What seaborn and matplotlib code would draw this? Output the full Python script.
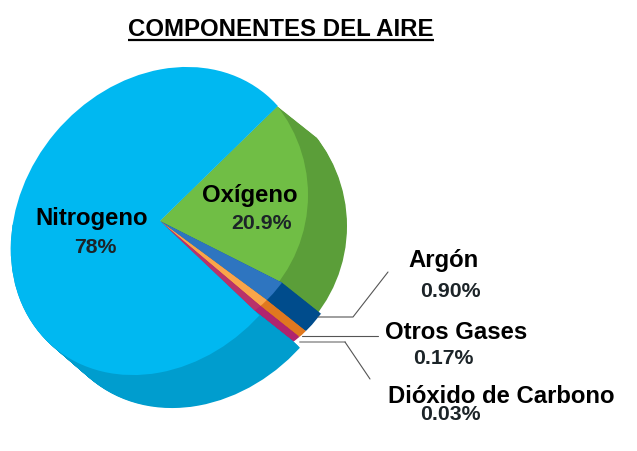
import numpy as np
import seaborn as sns
import matplotlib.pyplot as plt
from matplotlib.patches import Circle, Ellipse
from matplotlib.transforms import Affine2D

# nombres y porcentajes tal como salen rotulados
nombres = ["Oxígeno", "Argón", "Otros Gases", "Dióxido de Carbono", "Nitrogeno"]
porcentajes = ["20.9%", "0.90%", "0.17%", "0.03%", "78%"]

# el dibujo exagera las rebanadas chicas, asi que van los grados
grados_cara = [71.1, 9.7, 3.7, 3.3, 272.2]
# el lado solo se ve al frente: el nitrogeno se parte en frente y fondo
grados_lado = [71.1, 9.7, 3.7, 3.3, 135.0, 137.2]

colores_cara = sns.color_palette(["#70BE45", "#2E75C0", "#F9A54A", "#B8336A", "#00B8F1"])
colores_lado = sns.color_palette(["#5B9E39", "#004C8C", "#E0781F", "#B0256E", "#009DCE"]) + ["none"]

sns.set_theme(style="white")
plt.rcParams['font.family'] = ['Liberation Sans', 'DejaVu Sans']

fig = plt.figure(figsize=(6.37, 4.52), dpi=100)
ax = fig.add_axes([0, 0, 1, 1])

centro = np.array([160.0, 222.0])
grosor = np.array([39.0, 31.0])
inicio = -44.3  # eje y invertido, asi que el angulo queda espejado
radio = 190


def recorte(indice, dx, dy, extra=0.0):
    # cada rebanada se recorta con su propio borde, el pastel original no es un circulo
    if indice == 4:
        forma = Ellipse(tuple(centro), 2 * (165 + extra), 2 * (137 + extra), angle=-50)
    else:
        r = 144 if indice == 0 else 147
        forma = Circle((164, 196), r)
    forma.set_transform(Affine2D().translate(dx, dy) + ax.transData)
    return forma


# lado: muchas copias corridas hacia abajo, de atras para adelante
for t in np.linspace(1, 0, 45):
    dx, dy = grosor * t
    wedges, _ = ax.pie(grados_lado, colors=colores_lado, startangle=inicio, radius=radio,
                       center=(centro[0] + dx, centro[1] + dy),
                       wedgeprops={'linewidth': 0})
    for i, w in enumerate(wedges):
        w.set_clip_on(True)
        w.set_clip_path(recorte(min(i, 4), dx, dy, extra=2 * t))

# cara de arriba
wedges, _ = ax.pie(grados_cara, colors=colores_cara, startangle=inicio, radius=radio,
                   center=tuple(centro), wedgeprops={'linewidth': 0})
for i, w in enumerate(wedges):
    w.set_clip_on(True)
    w.set_clip_path(recorte(i, 0, 0))

ax.set_xlim(0, 637)
ax.set_ylim(452, 0)
ax.set_aspect('auto')
ax.axis('off')

# titulo subrayado
ax.text(281, 29, "COMPONENTES DEL AIRE", fontsize=17.3, fontweight='bold', color='black',
        ha='center', va='center')
ax.plot([128, 434], [40.5, 40.5], color='black', lw=1.6, solid_capstyle='butt')

# lineas guia
ax.plot([318, 353, 388], [318, 318, 273], color='#555555', lw=0.8)
ax.plot([302, 378], [337, 337], color='#555555', lw=0.8)
ax.plot([300, 345], [343, 343], color='#aaaaaa', lw=1.4)
ax.plot([345, 370], [343, 380], color='#555555', lw=0.8)

# rotulos
pos_nombre = [(250, 196), (444, 261), (456, 333), (501, 397), (92, 219)]
pos_valor = [(261, 224), (450, 292), (443, 359), (450, 415), (95, 248)]
for nombre, valor, pn, pv in zip(nombres, porcentajes, pos_nombre, pos_valor):
    ax.text(pn[0], pn[1], nombre, fontsize=17.2, fontweight='bold', color='black',
            ha='center', va='center')
    ax.text(pv[0], pv[1], valor, fontsize=15.3, fontweight='bold', color='#1c2428',
            ha='center', va='center')

fig.savefig("out.png", dpi=100)
